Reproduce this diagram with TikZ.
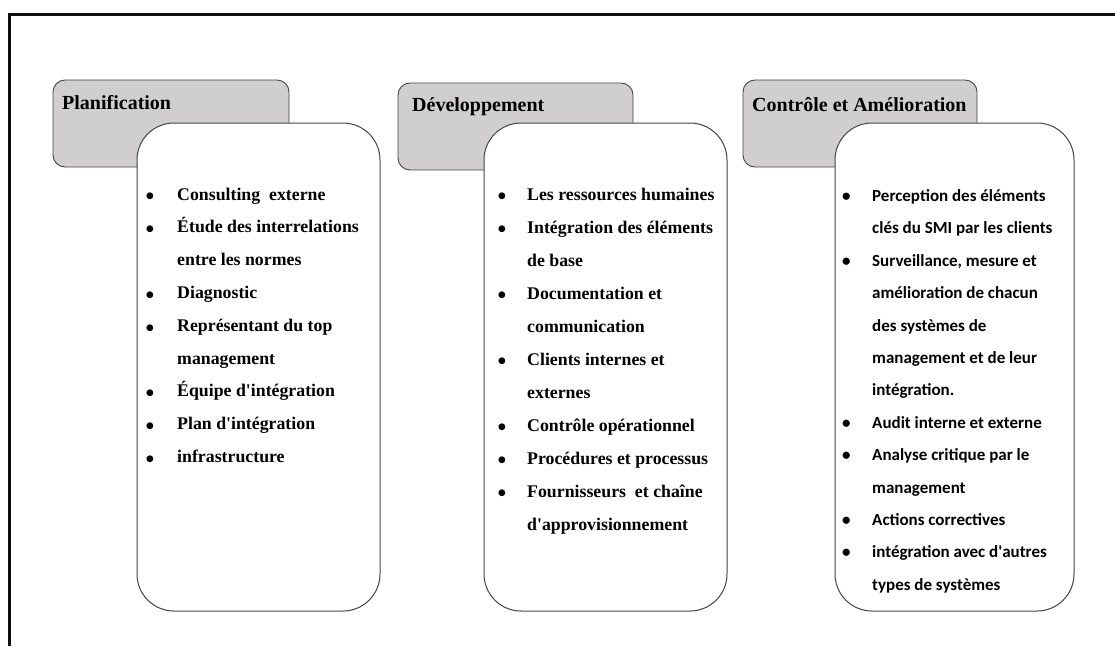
\documentclass[tikz,border=0pt]{standalone}
\usepackage{graphicx}
\usepackage{fontspec}
\setmainfont{Liberation Serif}
\newfontfamily\calibrifont{Carlito}
\definecolor{boxgray}{RGB}{208,206,206}
\definecolor{edgegray}{RGB}{68,68,68}
\definecolor{framecol}{RGB}{15,15,15}
\newcommand\listdot{\raisebox{-0.28em}{\scalebox{1.4}{\textbullet}}}

\tikzset{
  phasebox/.style={draw=edgegray, line width=0.9pt, fill=boxgray,
    rounded corners=12pt, inner sep=0pt},
  listbox/.style={draw=edgegray, line width=1pt, fill=white,
    rounded corners=37pt, inner sep=0pt},
  phasetitle/.style={anchor=base west, inner sep=0pt,
    font=\fontsize{20}{24}\selectfont\bfseries},
  itemlist/.style={anchor=base west, inner sep=0pt},
  frameline/.style={draw=framecol, line width=3pt},
}

\begin{document}
\begin{tikzpicture}[x=1pt, y=-1pt]
\useasboundingbox (0,0) rectangle (1115,646);

% outer frame (top and left sides)
\coordinate (fb) at (9.5,646);
\coordinate (fc) at (9.5,14);
\coordinate (fr) at (1115,14);
\draw[frameline] (fb) -- (fc) -- (fr);

% phase headers
\node[phasebox, minimum width=236pt, minimum height=87pt] (g1) at (171,123.5) {};
\node[phasebox, minimum width=235pt, minimum height=87pt] (g2) at (515.5,126.5) {};
\node[phasebox, minimum width=234pt, minimum height=87pt] (g3) at (860,123.5) {};

\node[phasetitle] (t1) at (62,109) {Planification};
\node[phasetitle] (t2) at (412,111) {Développement};
\node[phasetitle] (t3) at (752,111) {Contrôle et Amélioration};

% content cards
\node[listbox, minimum width=243pt, minimum height=488pt] (c1) at (258.5,367) {};
\node[listbox, minimum width=243pt, minimum height=488pt] (c2) at (605.5,367) {};
\node[listbox, minimum width=239pt, minimum height=488pt] (c3) at (954.5,367) {};

% item lists
\node[itemlist] (l1) at (145.5,200) {\fontsize{17.8}{32.8}\selectfont\bfseries
\begin{tabular}[t]{@{}p{31.5pt}@{}l@{}}
\listdot & Consulting\ \ externe\\
\listdot & Étude des interrelations\\
 & entre les normes\\
\listdot & Diagnostic\\
\listdot & Représentant du top\\
 & management\\
\listdot & Équipe d\textquotesingle intégration\\
\listdot & Plan d\textquotesingle intégration\\
\listdot & infrastructure
\end{tabular}};

\node[itemlist] (l2) at (497.5,200) {\fontsize{17.8}{33}\selectfont\bfseries
\begin{tabular}[t]{@{}p{29.5pt}@{}l@{}}
\listdot & Les ressources\ humaines\\
\listdot & Intégration\ des éléments\\
 & de base\\
\listdot & Documentation et\\
 & communication\\
\listdot & Clients internes et\\
 & externes\\
\listdot & Contrôle opérationnel\\
\listdot & Procédures et processus\\
\listdot & Fournisseurs\ \ et chaîne\\
 & d\textquotesingle approvisionnement
\end{tabular}};

\node[itemlist] (l3) at (842,201.5) {\calibrifont\fontsize{17}{32.4}\selectfont\bfseries
\begin{tabular}[t]{@{}p{30pt}@{}l@{}}
\textbullet & Perception des éléments\\
 & clés du SMI par les clients\\
\textbullet & Surveillance, mesure et\\
 & amélioration de chacun\\
 & des systèmes de\\
 & management et de leur\\
 & intégration.\\
\textbullet & Audit interne et externe\\
\textbullet & Analyse critique par le\\
 & management\\
\textbullet & Actions correctives\\
\textbullet & intégration avec d\textquotesingle autres\\
 & types de systèmes
\end{tabular}};
\end{tikzpicture}
\end{document}
